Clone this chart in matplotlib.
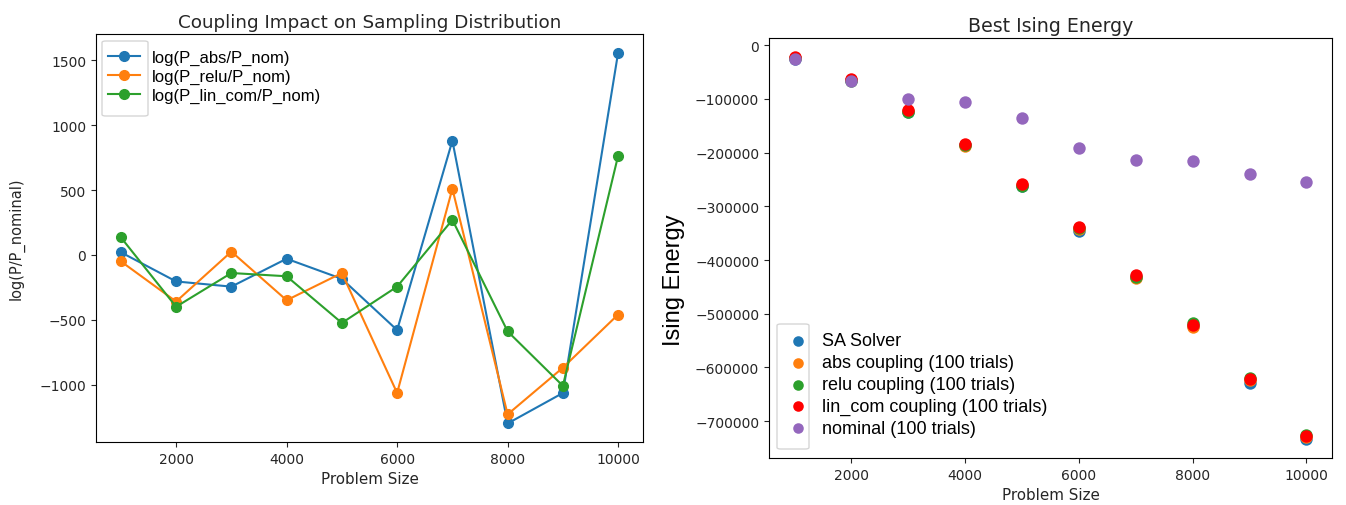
import matplotlib
matplotlib.use("Agg")
import matplotlib.pyplot as plt
from matplotlib.patches import FancyBboxPatch

# ---------------- data ----------------
problem_size = [1000, 2000, 3000, 4000, 5000, 6000, 7000, 8000, 9000, 10000]

log_abs = [20, -205, -245, -30, -185, -580, 880, -1300, -1065, 1560]
log_relu = [-50, -360, 25, -350, -140, -1065, 510, -1230, -870, -460]
log_lin_com = [135, -400, -140, -165, -525, -245, 270, -590, -1010, 765]

energy_sa = [-25000, -65000, -124000, -186000, -262000, -345000, -432000, -522000, -628000, -733000]
energy_abs = [-24000, -65000, -122000, -188000, -260000, -342000, -433000, -524000, -624000, -730000]
energy_relu = [-24000, -66000, -125000, -186000, -262000, -341000, -431000, -518000, -620000, -726000]
energy_lin_com = [-22000, -63000, -120000, -183000, -258000, -339000, -428000, -520000, -622000, -728000]
energy_nominal = [-25000, -67000, -100000, -106000, -136000, -192000, -213000, -215000, -239000, -254000]

left_labels = ["log(P_abs/P_nom)", "log(P_relu/P_nom)", "log(P_lin_com/P_nom)"]
right_labels = ["SA Solver", "abs coupling (100 trials)", "relu coupling (100 trials)",
                "lin_com coupling (100 trials)", "nominal (100 trials)"]

# ---------------- figure ----------------
W, H = 1346, 506
TXT = "#262626"
plt.rcParams["text.color"] = TXT
plt.rcParams["xtick.color"] = TXT
plt.rcParams["ytick.color"] = TXT
plt.rcParams["axes.labelcolor"] = TXT
fig = plt.figure(figsize=(W / 100, H / 100), dpi=100)


def px_axes(l, t, r, b):
    return fig.add_axes([l / W, 1 - b / H, (r - l) / W, (b - t) / H])


def px_frame(ax, l, t, r, b):
    p = FancyBboxPatch((l / W, 1 - b / H), (r - l) / W, (b - t) / H,
                       boxstyle="round,pad=0,rounding_size=0.003",
                       transform=fig.transFigure, facecolor="white",
                       edgecolor="#d6d6d6", linewidth=1.0, zorder=4,
                       clip_on=False)
    ax.add_artist(p)


ax1 = px_axes(96, 35, 643, 443)
ax2 = px_axes(769, 39, 1332, 459)

# ---------------- left panel ----------------
for vals, lab, col in zip([log_abs, log_relu, log_lin_com], left_labels,
                          ["tab:blue", "tab:orange", "tab:green"]):
    ax1.plot(problem_size, vals, marker="o", color=col, label=lab,
             markersize=7, linewidth=1.5)

ax1.set_title("Coupling Impact on Sampling Distribution", fontsize=13.2, pad=5)
ax1.set_xlabel("Problem Size", fontsize=10.9)
ax1.set_ylabel("log(P/P_nominal)", fontsize=10.5)
ax1.yaxis.set_label_coords(-0.13, 0.5)

px_frame(ax1, 102, 42, 148, 117)
leg1 = ax1.legend(loc="upper left", bbox_to_anchor=(108 / W, 1 - 50.5 / H),
                  bbox_transform=fig.transFigure, frameon=False,
                  prop={"family": ["Liberation Sans"], "size": 12},
                  borderpad=0, borderaxespad=0, handlelength=1.92,
                  handletextpad=0.72, labelspacing=0.23)
leg1.set_zorder(6)
for t in leg1.get_texts():
    t.set_color("black")

# ---------------- right panel ----------------
for vals, lab, col in zip([energy_sa, energy_abs, energy_relu, energy_lin_com, energy_nominal],
                          right_labels,
                          ["tab:blue", "tab:orange", "tab:green", "red", "tab:purple"]):
    ax2.scatter(problem_size, vals, color=col, label=lab, s=80, linewidths=0)

ax2.set_title("Best Ising Energy", fontsize=13.7, pad=5)
ax2.set_xlabel("Problem Size", fontsize=10.9)
ax2.set_ylabel("Ising Energy", fontsize=17, family=["Liberation Sans"], color="black")
ax2.yaxis.set_label_coords(-0.149, 0.426)

px_frame(ax2, 777, 325, 809, 450)
leg2 = ax2.legend(loc="upper left", bbox_to_anchor=(789 / W, 1 - 333.5 / H),
                  bbox_transform=fig.transFigure, frameon=False,
                  prop={"family": ["Liberation Sans"], "size": 13},
                  borderpad=0, borderaxespad=0, handlelength=1.0,
                  handletextpad=0.83, labelspacing=0.27, markerscale=0.85)
leg2.set_zorder(6)
for t in leg2.get_texts():
    t.set_color("black")

fig.savefig("out.png", dpi=100)
